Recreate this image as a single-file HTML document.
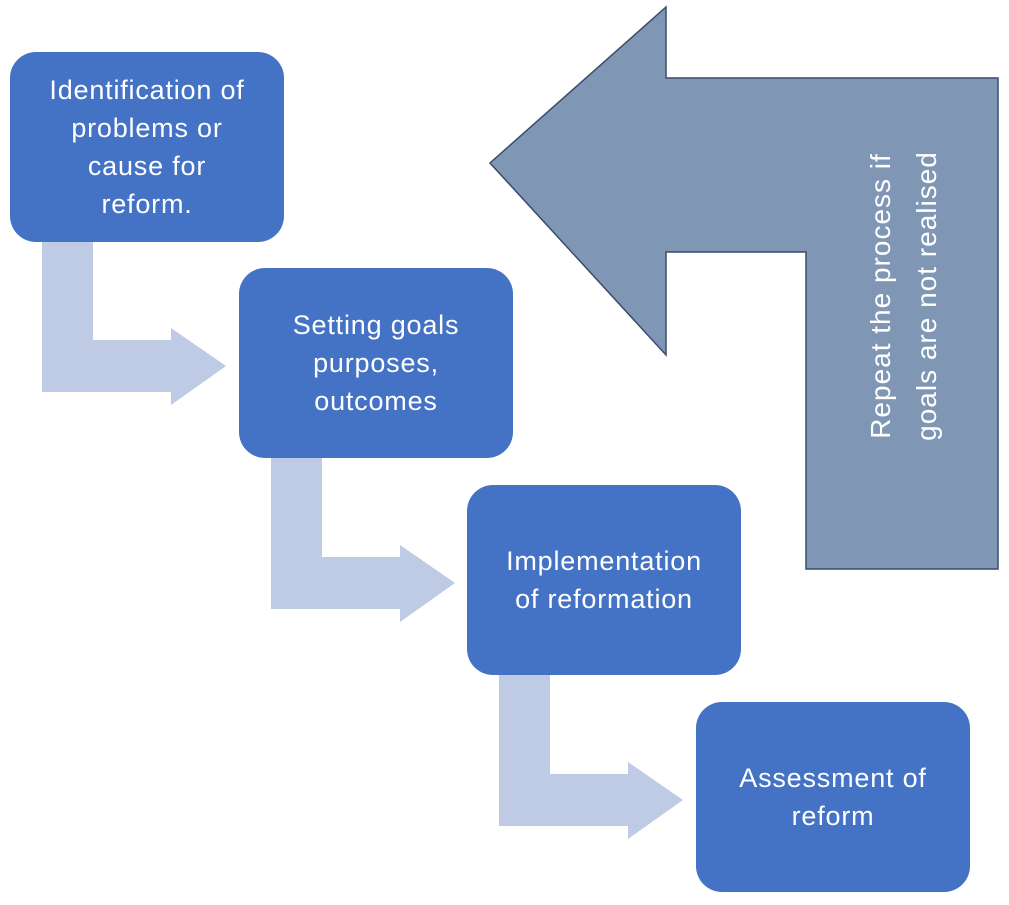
<!DOCTYPE html>
<html><head><style>
body{margin:0;background:#fff;width:1009px;height:905px;overflow:hidden;position:relative;font-family:"Liberation Sans",sans-serif}
.b{position:absolute;width:274px;height:190px;background:#4472c4;border-radius:26px;color:#fff;font-size:27px;letter-spacing:0.8px;line-height:38px;display:flex;align-items:center;justify-content:center;text-align:center}
</style></head><body>
<svg width="1009" height="905" style="position:absolute;left:0;top:0">
<g fill="#bfcae4">
<polygon points="42,241 93,241 93,340 171,340 171,328 226,366 171,405 171,392 42,392"/>
<polygon transform="translate(229,217)" points="42,241 93,241 93,340 171,340 171,328 226,366 171,405 171,392 42,392"/>
<polygon transform="translate(457,434)" points="42,241 93,241 93,340 171,340 171,328 226,366 171,405 171,392 42,392"/>
</g>
<polygon points="490,163 666,7 666,78 998,78 998,569 806,569 806,252 666,252 666,355" fill="#7f96b5" stroke="#3b4b6b" stroke-width="1.5"/>
<text transform="translate(890,296) rotate(-90)" fill="#fff" font-size="28" letter-spacing="1" text-anchor="middle" font-family="Liberation Sans, sans-serif">Repeat the process if</text>
<text transform="translate(936,296) rotate(-90)" fill="#fff" font-size="28" letter-spacing="1" text-anchor="middle" font-family="Liberation Sans, sans-serif">goals are not realised</text>
</svg>
<div class="b" style="left:10px;top:52px">Identification of<br>problems or<br>cause for<br>reform.</div>
<div class="b" style="left:239px;top:268px">Setting goals<br>purposes,<br>outcomes</div>
<div class="b" style="left:467px;top:485px">Implementation<br>of reformation</div>
<div class="b" style="left:696px;top:702px">Assessment of<br>reform</div>
</body></html>
